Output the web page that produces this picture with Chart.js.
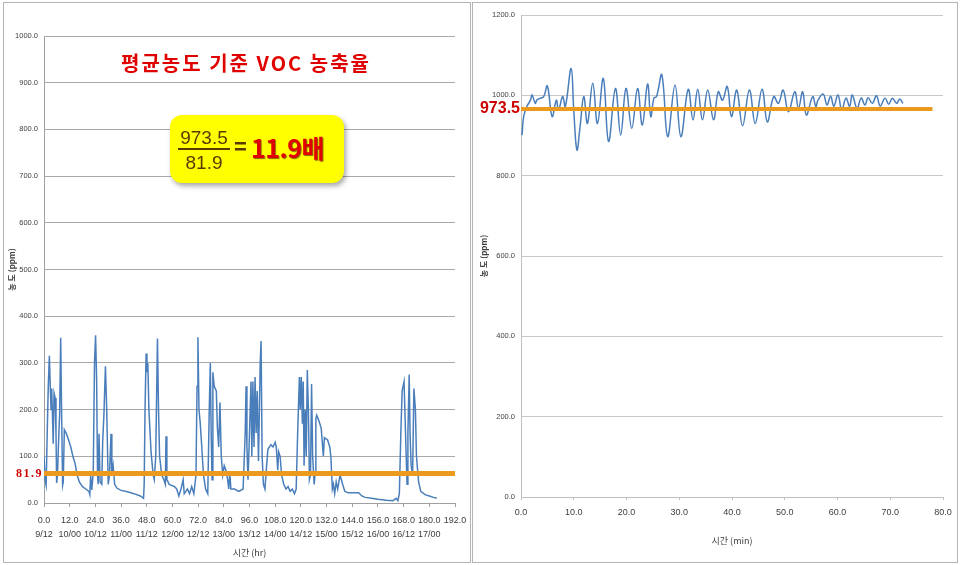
<!DOCTYPE html>
<html>
<head>
<meta charset="utf-8">
<script src="https://cdn.jsdelivr.net/npm/chart.js@4.4.1/dist/chart.umd.min.js"></script>
<style>
  body { margin: 0; background: #fff; width: 960px; height: 565px; position: relative; overflow: hidden; font-family: "Noto Sans CJK KR", sans-serif; }
  .panel { position: absolute; border: 1px solid #b4b4b4; box-sizing: border-box; }
  canvas { position: absolute; }
  #title { position: absolute; left: 90px; width: 312px; top: 48px; text-align: center; color: #e00000; font-weight: bold; font-size: 20px; letter-spacing: 2px; line-height: 30px; }
  #box { position: absolute; left: 170px; top: 115px; width: 174px; height: 68px; background: #ffff00; border-radius: 12px; box-shadow: 2px 3px 5px rgba(0,0,0,0.35); }
  .frac { position: absolute; color: #5a3a00; font-family: "Liberation Sans", Arial, sans-serif; font-size: 19px; text-align: center; width: 60px; left: 4px; line-height: 22px; }
  #bar { position: absolute; left: 8px; top: 33px; width: 52px; height: 2px; background: #5a3a00; }
  #eq { position: absolute; left: 64px; top: 19px; color: #5a3a00; font-family: "Liberation Sans", Arial, sans-serif; font-size: 22px; font-weight: bold; }
  #ratio { position: absolute; left: 81px; top: 15px; color: #e00000; font-weight: bold; font-size: 25px; letter-spacing: -0.5px; text-shadow: 1px 1px 1px rgba(60,0,0,0.6); line-height: 34px; }
</style>
</head>
<body>
<div class="panel" style="left:3px; top:2px; width:468px; height:561px;"></div>
<div class="panel" style="left:472px; top:2px; width:486px; height:561px;"></div>
<canvas id="leftChart" width="465" height="557" style="left:4px; top:4px; width:465px; height:557px;"></canvas>
<canvas id="rightChart" width="483" height="557" style="left:473px; top:4px; width:483px; height:557px;"></canvas>
<div id="title">평균농도 기준 VOC 농축율</div>
<div id="box">
  <div class="frac" style="top:12px;">973.5</div>
  <div id="bar"></div>
  <div class="frac" style="top:37px;">81.9</div>
  <div id="eq">=</div>
  <div id="ratio">11.9배</div>
</div>
<script>
// left chart: concentration over time (hr)
const leftPoints = [
  [0,100],[0.5,50],[1,38],[1.5,150],[2,250],[2.5,315],[3,240],[3.3,200],[3.6,245],[4,180],[4.3,127],[4.7,235],
  [5.2,225],[5.6,150],[5.9,43],[6.3,60],[6.8,130],[7.3,190],[7.8,354],[8.2,200],[8.7,38],[9,45],[9.5,157],
  [10.5,148],[11.5,135],[12.5,120],[13.5,100],[14.5,85],[15.5,60],[16.5,45],[18,35],[19.5,30],[21,25],[21.4,18],
  [21.8,60],[22.3,28],[23,65],[23.6,300],[24.1,359],[24.6,260],[25,60],[25.3,40],[25.7,148],[26.2,45],[27,40],
  [27.4,130],[28,190],[28.7,293],[29.3,200],[30,40],[30.6,60],[31.3,148],[31.7,60],[32.3,80],[33,40],[34,32],
  [36,27],[39,24],[42,20],[45,15],[46.5,10],[46.8,40],[47.2,200],[47.7,320],[48.1,280],[48.5,300],[49,200],
  [50,110],[51,60],[51.5,50],[52.2,100],[53,352],[53.5,200],[54,100],[55,60],[56,50],[56.7,40],[57,143],[57.4,50],
  [58.5,40],[61,35],[62,30],[63,15],[64,30],[65,50],[65.5,20],[66.3,25],[67,30],[68,20],[69,35],[70,20],[71,60],
  [71.5,250],[71.9,355],[72.4,200],[73,170],[73.7,120],[74.5,60],[75.5,30],[76.5,20],[77.2,200],[77.7,300],
  [78.1,150],[78.5,50],[78.9,280],[79.5,250],[80.5,240],[81,160],[81.6,120],[82.2,215],[82.8,100],[83.5,60],
  [84.2,80],[85,70],[85.8,50],[86.3,30],[86.8,65],[87.3,30],[89,30],[91,25],[93,30],[94,150],[94.4,250],[94.8,120],
  [95.3,50],[96,150],[96.7,260],[97.1,100],[97.6,260],[98.1,120],[98.6,270],[99.1,150],[99.6,240],[100.2,90],
  [101,300],[101.4,347],[101.9,100],[102.5,40],[103.2,30],[104,80],[104.6,115],[106,125],[107,120],[108,130],
  [108.5,120],[109.2,70],[109.6,110],[110.3,100],[111,60],[112,40],[113,30],[114,35],[115,25],[116,30],[117,20],
  [117.8,30],[118.5,150],[119.3,270],[119.7,200],[120.2,270],[120.7,170],[121.1,260],[121.5,80],[122,200],
  [122.5,100],[123,285],[123.5,200],[124,50],[124.5,60],[125,255],[125.5,100],[126.2,40],[126.6,60],[127,180],
  [127.4,188],[128.5,175],[129.5,160],[130,130],[130.5,100],[131,140],[132.5,135],[133.5,120],[134,100],[134.7,30],
  [135.2,40],[135.8,20],[136.5,45],[137.2,30],[138.3,60],[139.5,40],[140.5,25],[142,22],[145,22],[147,22],
  [148.5,15],[150,12],[153,10],[156,8],[160,6],[163,5],[164.5,10],[165.3,5],[166,20],[166.7,150],[167.3,240],
  [168.2,260],[168.7,180],[169.2,100],[169.6,40],[170,150],[170.6,275],[171,150],[171.5,80],[172.2,60],[172.8,245],
  [173.5,200],[174,100],[175,45],[176,25],[178,18],[180,15],[182,12],[183.5,10]
];
const leftHours = leftPoints.map(p => p[0]);
const leftPpm = leftPoints.map(p => p[1]);

// date labels under the hour ticks (0, 12, 24 ... 192)
const dateLabels = ['9/12','10/00','10/12','11/00','11/12','12/00','12/12','13/00','13/12',
  '14/00','14/12','15/00','15/12','16/00','16/12','17/00',''];

// right chart: concentration over time (min)
const rightMin = [0.2,0.5,1.1,1.8,2.1,2.7,3.0,3.7,4.3,5.0,5.9,6.7,7.1,7.9,8.4,9.5,10.0,10.6,11.2,11.9,12.6,13.6,
  14.5,15.6,16.6,17.9,18.9,19.9,21.0,22.1,23.0,24.0,24.6,25.2,25.7,26.7,27.8,29.2,30.3,31.7,32.6,33.5,34.4,35.4,
  36.5,37.4,38.2,39.1,39.9,40.9,42.0,43.3,44.4,45.7,46.7,47.9,48.8,49.7,50.7,51.9,52.6,53.4,54.1,55.3,55.9,56.3,
  57.3,58.0,58.7,59.3,60.1,60.8,61.6,62.3,62.8,63.7,64.5,65.2,65.8,66.6,67.4,68.1,69.0,69.7,70.4,71.2,71.8,72.4];
const rightPpm = [901,947,972,988,1001,980,988,993,997,1023,947,988,963,997,972,1067,963,864,922,997,930,1030,
  930,1042,885,1017,901,1017,918,1017,926,1028,947,993,997,1051,897,1026,897,1015,939,1015,939,1013,
  939,1009,988,1022,947,1013,924,1013,930,1015,934,997,980,1013,959,1009,968,1009,951,997,972,988,
  1003,976,998,973,1001,963,993,973,1001,968,993,976,994,980,999,973,993,978,993,980,991,980];

// orange average lines: label text and where they are drawn in the picture
const leftAvgLabel = '81.9';
const leftAvgLevel = 63;
const leftAvgSpan = [0, 192];
const rightAvgLabel = '973.5';
const rightAvgLevel = 966;
const rightAvgSpan = [0, 78];

const tickFont = { family: '"Liberation Sans", Arial, sans-serif', size: 9 };
const yTickFont = { family: '"Liberation Sans", Arial, sans-serif', size: 7.5 };
const blue = '#4a7ebb';
const orange = '#ec9a1e';

// fixed axis sizes so the plot areas line up with the picture
function fixHeight(h) {
    return s => { s.height = h; s.paddingLeft = 0; s.paddingRight = 0; };
}

// draws the red average value next to the y axis
function avgLabelPlugin(text, level, font, spacing) {
    return {
        id: 'avgLabel',
        afterDraw(chart) {
            const ctx = chart.ctx;
            const y = chart.scales.y.getPixelForValue(level);
            ctx.save();
            ctx.font = font;
            ctx.fillStyle = '#cc0000';
            ctx.textAlign = 'right';
            ctx.textBaseline = 'middle';
            ctx.letterSpacing = spacing;
            ctx.fillText(text, chart.chartArea.left - 1, y);
            ctx.restore();
        }
    };
}

document.addEventListener('DOMContentLoaded', () => {
    // Left chart: hourly record
    new Chart(document.getElementById('leftChart'), {
        type: 'line',
        data: {
            datasets: [{
                data: leftAvgSpan.map(x => ({ x: x, y: leftAvgLevel })),
                borderColor: orange, borderWidth: 5, pointRadius: 0
            }, {
                data: leftHours.map((h, i) => ({ x: h, y: leftPpm[i] })),
                borderColor: blue, borderWidth: 1.5, pointRadius: 0, tension: 0
            }]
        },
        options: {
            responsive: false, animation: false, events: [],
            layout: { padding: { left: 0, right: 14, top: 32, bottom: 0 } },
            plugins: { legend: { display: false }, tooltip: { enabled: false } },
            scales: {
                x: {
                    type: 'linear', min: 0, max: 192,
                    afterFit: fixHeight(58),
                    border: { color: '#a0a0a0' },
                    grid: { drawOnChartArea: false, tickLength: 4, color: '#a0a0a0' },
                    ticks: {
                        stepSize: 12, autoSkip: false, maxRotation: 0, padding: 6,
                        font: { ...tickFont, lineHeight: 1.6 }, color: '#404040',
                        callback: (v, i) => [v.toFixed(1), dateLabels[i] || '']
                    },
                    title: { display: true, text: '시간 (hr)', font: { size: 9, family: '"Noto Sans CJK KR"' }, color: '#404040', padding: { top: 2, bottom: 3 } }
                },
                y: {
                    min: 0, max: 1000,
                    afterFit: s => { s.width = 40; },
                    border: { color: '#a0a0a0' },
                    grid: { color: '#a8a8a8', drawTicks: false },
                    ticks: { stepSize: 100, padding: 6, font: yTickFont, color: '#404040', callback: v => v.toFixed(1) },
                    title: { display: true, text: '농 도 (ppm)', font: { size: 8, weight: 'bold', family: '"Noto Sans CJK KR"' }, color: '#404040', padding: { top: 3, bottom: 0 } }
                }
            }
        },
        plugins: [avgLabelPlugin(leftAvgLabel, leftAvgLevel, 'bold 12px "Liberation Serif", serif', '1.5px')]
    });

    // Right chart: per minute record
    new Chart(document.getElementById('rightChart'), {
        type: 'line',
        data: {
            datasets: [{
                data: rightAvgSpan.map(x => ({ x: x, y: rightAvgLevel })),
                borderColor: orange, borderWidth: 4, pointRadius: 0
            }, {
                data: rightMin.map((m, i) => ({ x: m, y: rightPpm[i] })),
                borderColor: blue, borderWidth: 1.5, pointRadius: 0, tension: 0.4
            }]
        },
        options: {
            responsive: false, animation: false, events: [],
            layout: { padding: { left: 0, right: 13, top: 11, bottom: 0 } },
            plugins: { legend: { display: false }, tooltip: { enabled: false } },
            scales: {
                x: {
                    type: 'linear', min: 0, max: 80,
                    afterFit: fixHeight(64),
                    border: { color: '#c0c0c0' },
                    grid: { drawOnChartArea: false, tickLength: 3, color: '#c0c0c0' },
                    ticks: { stepSize: 10, maxRotation: 0, padding: 7, font: tickFont, color: '#404040', callback: v => v.toFixed(1) },
                    title: { display: true, text: '시간 (min)', font: { size: 9, family: '"Noto Sans CJK KR"' }, color: '#404040', padding: { top: 2, bottom: 15 } }
                },
                y: {
                    min: 0, max: 1200,
                    afterFit: s => { s.width = 48; },
                    border: { color: '#c0c0c0' },
                    grid: { color: '#c8c8c8', drawTicks: false },
                    ticks: { stepSize: 200, padding: 6, font: yTickFont, color: '#404040', callback: v => v.toFixed(1) },
                    title: { display: true, text: '농 도 (ppm)', font: { size: 8, weight: 'bold', family: '"Noto Sans CJK KR"' }, color: '#404040', padding: { top: 6, bottom: 0 } }
                }
            }
        },
        plugins: [avgLabelPlugin(rightAvgLabel, rightAvgLevel, 'bold 16px "Liberation Sans", Arial, sans-serif', '0px')]
    });
});
</script>
</body>
</html>
